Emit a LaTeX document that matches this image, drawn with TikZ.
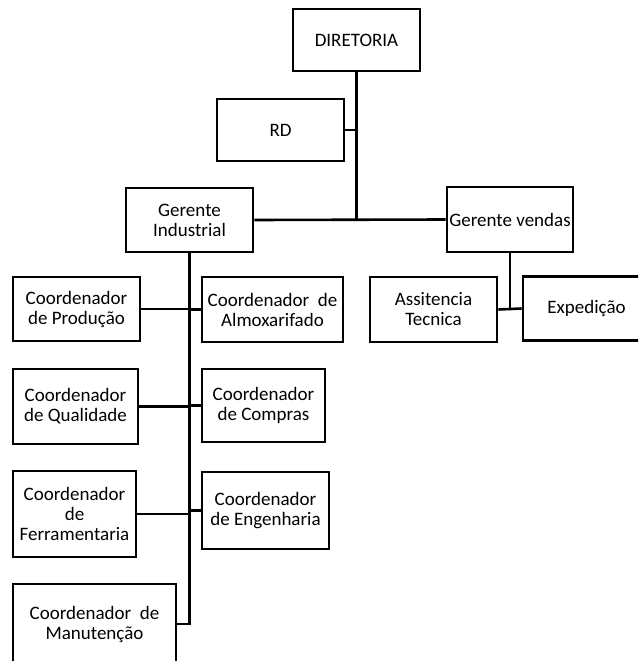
\documentclass[tikz,border=0pt]{standalone}
\usepackage{fontspec}
\setmainfont{Carlito}

\begin{document}
\begin{tikzpicture}
    [x=1pt,y=-1pt,line width=2.6pt,
     cargo/.style={draw,rectangle,align=center,inner sep=1pt,
       font=\fontsize{19}{20}\selectfont}]
    \useasboundingbox (0,0) rectangle (638,661);
    \clip (0,0) rectangle (638,661);
    % topo
    \node[cargo,minimum width=127,minimum height=62] (dir) at (356.5,40) {DIRETORIA};
    \node[cargo,minimum width=127,minimum height=62] (rd) at (280.5,130) {RD};
    \node[cargo,minimum width=127,minimum height=64] (gi) at (189.5,220) {Gerente\\Industrial};
    \node[cargo,minimum width=126,minimum height=65] (gv) at (510,219.5) {Gerente vendas};
    % industrial
    \node[cargo,minimum width=127,minimum height=64] (prod) at (76.5,309) {Coordenador\\de Produção};
    \node[cargo,minimum width=141,minimum height=65] (almox) at (272.5,309.5) {Coordenador~ de\\Almoxarifado};
    \node[cargo,minimum width=125,minimum height=75] (qual) at (75.5,406.5) {Coordenador\\de Qualidade};
    \node[cargo,minimum width=123,minimum height=73] (compras) at (263.5,405.5) {Coordenador\\de Compras};
    \node[cargo,minimum width=123,minimum height=86] (ferr) at (74.5,514) {Coordenador\\de\\Ferramentaria};
    \node[cargo,minimum width=127,minimum height=77] (eng) at (265.5,510.5) {Coordenador\\de Engenharia};
    \node[cargo,minimum width=163,minimum height=80] (manut) at (94.5,624) {Coordenador~ de\\Manutenção};
    % vendas
    \node[cargo,minimum width=127,minimum height=65] (assit) at (433.5,309.5) {Assitencia\\Tecnica};
    \node[cargo,minimum width=127,minimum height=64] (exped) at (586.5,308.5) {Expedição};

    \draw (dir.south) -- (dir.south |- gi.east);
    \draw (rd.east) -- (rd.east -| dir.south);
    \draw (gi.east) -- (gv.west);
    \draw (gi.south) |- (manut.east);
    \foreach \n in {prod,qual,ferr}
      \draw (\n.east) -- (\n.east -| gi.south);
    \foreach \n in {almox,compras,eng}
      \draw (\n.west) -- (\n.west -| gi.south);
    \draw (gv.south) -- (gv.south |- exped.west);
    \draw (assit.east) -- (exped.west);
\end{tikzpicture}
\end{document}
